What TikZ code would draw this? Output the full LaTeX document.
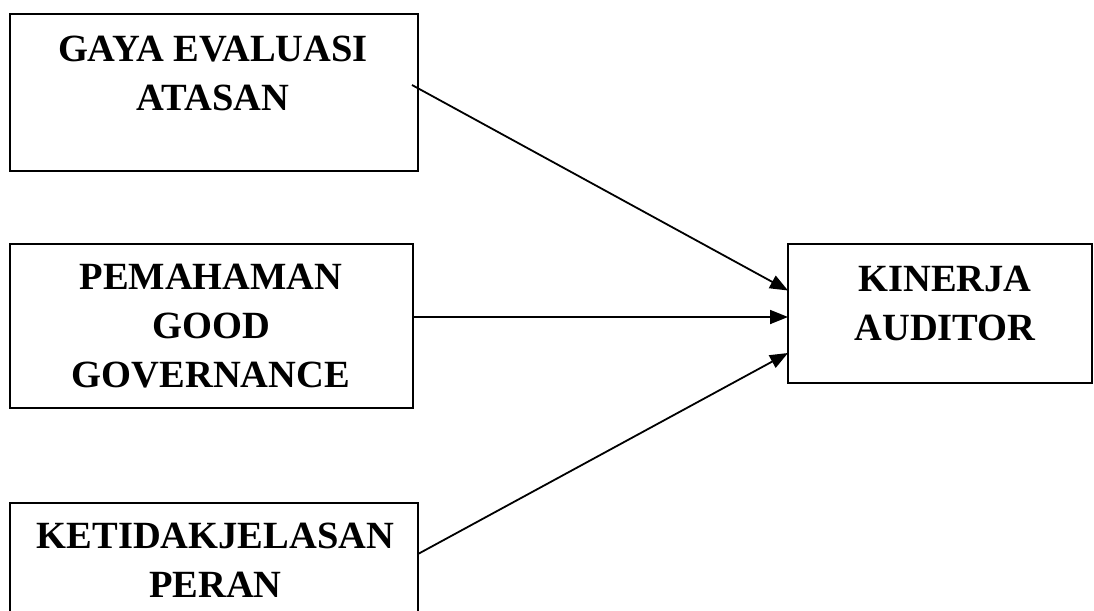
\documentclass[tikz,border=0pt]{standalone}
\usepackage{fontspec}
\setmainfont{Liberation Serif}
\usetikzlibrary{arrows.meta, positioning}

\begin{document}
\begin{tikzpicture}[
        x=1pt, y=-1pt,
        box/.style={draw, line width=1.5pt, inner sep=0pt, outer sep=0pt},
        label/.style={anchor=base, align=center, inner sep=0pt, font=\bfseries\fontsize{38.5}{49}\selectfont},
        arrow/.style={line width=1.8pt, -{Triangle[length=18pt, width=14pt]}}
      ]
      \useasboundingbox (0,0) rectangle (1094,610);

      % Variable boxes
      \node[box, minimum width=408pt, minimum height=157pt] (gaya) at (214, 92.5) {};
      \node[box, minimum width=403pt, minimum height=164pt] (paham) at (211.5, 326) {};
      \node[box, minimum width=408pt, minimum height=157pt] (peran) at (214, 581.5) {};
      \node[box, minimum width=304pt, minimum height=139pt] (kinerja) at (940, 313.5) {};

      % Labels (base = last line)
      \node[label] (gayaText) at (213, 110) {GAYA EVALUASI\\ATASAN};
      \node[label] (pahamText) at (211, 387) {PEMAHAMAN\\GOOD\\GOVERNANCE};
      \node[label] (peranText) at (215.5, 597) {KETIDAKJELASAN\\PERAN};
      \node[label] (kinerjaText) at (945, 340) {KINERJA\\AUDITOR};

      % Arrows
      \draw[arrow] ([xshift=-6pt, yshift=7.5pt]gaya.east) -- ([yshift=23pt]kinerja.west);
      \draw[arrow] ([yshift=9pt]paham.east) -- ([yshift=-3.5pt]kinerja.west);
      \draw[arrow] ([yshift=27.5pt]peran.east) -- ([yshift=-39.5pt]kinerja.west);
  \end{tikzpicture}
\end{document}
